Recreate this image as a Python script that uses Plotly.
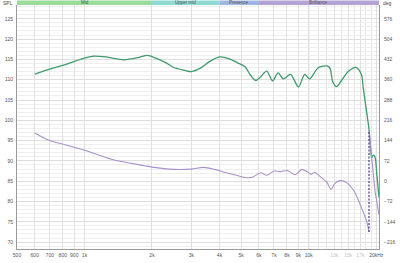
import math
import plotly.graph_objects as go

# ---------------- data ----------------
SPL_FREQ = [600, 700, 800, 900, 1000, 1100, 1250, 1500, 1750, 1900, 2000, 2300, 2500, 2800, 3000,
            3300, 3600, 4000, 4400, 4800, 5200, 5500, 5800, 6100, 6500, 6900, 7300, 7700, 8300,
            9000, 9600, 10100, 11000, 12100, 12450, 12800, 13300, 14000, 15000, 16300, 17200,
            17500, 18100, 18600, 18900, 19100, 19400, 19750, 20100, 20580]
SPL_DB = [111.4, 112.6, 113.5, 114.5, 115.3, 115.8, 115.6, 114.9, 115.5, 116.0, 115.7, 114.2, 113.0,
          112.3, 112.0, 112.9, 114.4, 115.6, 115.2, 114.2, 113.2, 111.1, 109.8, 110.7, 112.1, 109.7,
          111.7, 110.2, 111.3, 108.2, 111.3, 110.2, 112.9, 113.4, 112.8, 109.5, 108.3, 109.8, 112.0,
          113.0, 111.2, 108.0, 102.3, 97.5, 92.6, 90.8, 91.4, 91.0, 87.0, 81.0]

PHASE_FREQ_A = [600, 690, 820, 1000, 1330, 1850, 2000, 2500, 3000, 3400, 3800, 4200, 4700, 5200,
                5600, 6100, 6500, 7000, 7450, 8050, 8700, 9330, 9820, 10240, 10660, 11230, 12060,
                12570, 13090, 13790, 14810, 16080, 17280, 18180, 18570]
PHASE_DEG_A = [171, 146, 129, 110, 77, 55, 50, 42, 43, 49, 42, 32, 22, 13, 14, 30, 21, 36, 34, 38,
               23, 42, 34, 25, 31, 17, -4, -29, -8, 2, -6, -41, -99, -145, -180]
PHASE_FREQ_B = [18570, 18900, 19200, 19500, 19800, 20200, 20580]
PHASE_DEG_B = [180, 120, 65, 10, -40, -80, -120]

WRAP_FREQ = [18570, 18570]
WRAP_DEG = [-180, 180]

X_TICKS = [500, 600, 700, 800, 900, 1000, 2000, 3000, 4000, 5000, 6000, 7000, 8000, 9000, 10000,
           13000, 15000, 17000, 20000]
X_LABELS = ["500", "600", "700", "800", "900", "1k", "2k", "3k", "4k", "5k", "6k", "7k", "8k",
            "9k", "10k", "13k", "15k", "17k", "20kHz"]
X_FAINT = ["13k", "15k", "17k"]
X_MINOR = [11000, 12000, 14000, 16000, 18000, 19000]
X_MAJOR_GRID = [1000, 10000]
X_RANGE = [500, 20580]

Y_TICKS = [70, 75, 80, 85, 90, 95, 100, 105, 110, 115, 120, 125]
Y_RANGE = [68.3, 128.4]
DEG_TICKS = [-216, -144, -72, 0, 72, 144, 216, 288, 360, 432, 504, 576]

BAND_NAMES = ["Mid", "Upper mid", "Presence", "Brilliance"]
BAND_EDGES = [500, 2000, 4000, 6000, 20580]
BAND_COLORS = ["#9adc9a", "#8fd9d3", "#9fb6e2", "#b3a3d5"]


def db_to_deg(v):
    return (v - 70) * 14.4 - 216


GREEN = "#3f9a6c"
PURPLE = "#a891cc"
FONT = "Liberation Sans"

fig = go.Figure()
fig.add_trace(go.Scatter(x=SPL_FREQ, y=SPL_DB, mode="lines",
                         line=dict(color=GREEN, width=1.3, shape="spline", smoothing=0.8),
                         hoverinfo="skip", showlegend=False))
fig.add_trace(go.Scatter(x=PHASE_FREQ_A, y=PHASE_DEG_A, mode="lines", yaxis="y2",
                         line=dict(color=PURPLE, width=1.1, shape="spline", smoothing=0.8),
                         hoverinfo="skip", showlegend=False))
fig.add_trace(go.Scatter(x=PHASE_FREQ_B, y=PHASE_DEG_B, mode="lines", yaxis="y2",
                         line=dict(color=PURPLE, width=1.1, shape="spline", smoothing=0.8),
                         hoverinfo="skip", showlegend=False))
fig.add_trace(go.Scatter(x=WRAP_FREQ, y=WRAP_DEG, mode="lines", yaxis="y2",
                         line=dict(color="#5a4496", width=1.3, dash="2px,1.5px"),
                         hoverinfo="skip", showlegend=False))

ticktext = [f'<span style="color:#c4c4c4">{t}</span>' if t in X_FAINT else t for t in X_LABELS]

W, H = 400, 263
L, R, T, B = 17, 21, 5, 9
plot_h = H - T - B

shapes = []
for xv in X_MAJOR_GRID:
    shapes.append(dict(type="line", xref="x", yref="paper", x0=xv, x1=xv, y0=0, y1=1,
                       line=dict(color="#bdbdbd", width=1), layer="below"))
strip = 4.6 / plot_h
for i, name in enumerate(BAND_NAMES):
    shapes.append(dict(type="rect", xref="x", yref="paper", x0=BAND_EDGES[i], x1=BAND_EDGES[i + 1],
                       y0=1.0, y1=1.0 + strip, line=dict(width=0), fillcolor=BAND_COLORS[i],
                       layer="above"))

annotations = []
for i, name in enumerate(BAND_NAMES):
    xc = math.sqrt(BAND_EDGES[i] * BAND_EDGES[i + 1])
    annotations.append(dict(x=math.log10(xc), xref="x", y=1.0 + strip / 2, yref="paper",
                            text=name, showarrow=False, font=dict(size=4.5, color="#555", family=FONT),
                            xanchor="center", yanchor="middle"))
annotations.append(dict(x=0, xref="paper", xshift=-16, y=1.0 + strip / 2, yref="paper",
                        text="SPL", showarrow=False, font=dict(size=5, color="#444", family=FONT),
                        xanchor="left", yanchor="middle"))
annotations.append(dict(x=1, xref="paper", xshift=2, y=1.0 + strip / 2, yref="paper",
                        text="deg", showarrow=False, font=dict(size=5, color="#444", family=FONT),
                        xanchor="left", yanchor="middle"))

fig.update_layout(
    width=W, height=H,
    margin=dict(l=L, r=R, t=T, b=B, pad=0),
    paper_bgcolor="white", plot_bgcolor="white",
    font=dict(family=FONT, size=5, color="#555"),
    shapes=shapes, annotations=annotations,
    xaxis=dict(type="log", range=[math.log10(X_RANGE[0]), math.log10(X_RANGE[1])],
               tickmode="array", tickvals=X_TICKS, ticktext=ticktext,
               showgrid=True, gridcolor="#e0e0e0", gridwidth=1,
               minor=dict(tickmode="array", tickvals=X_MINOR, showgrid=True, gridcolor="#e6e6e6"),
               showline=True, linecolor="#9a9a9a", linewidth=1, ticks="", ticklabelstandoff=1,
               zeroline=False, tickfont=dict(size=5, color="#555")),
    yaxis=dict(range=Y_RANGE, tickmode="array", tickvals=Y_TICKS,
               showgrid=True, gridcolor="#dedede", gridwidth=1,
               minor=dict(dtick=1, tick0=70, showgrid=True, gridcolor="#efefef"),
               showline=True, linecolor="#9a9a9a", linewidth=1, ticks="", ticklabelstandoff=2,
               zeroline=False, tickfont=dict(size=5, color="#555")),
    yaxis2=dict(overlaying="y", side="right",
                range=[db_to_deg(Y_RANGE[0]), db_to_deg(Y_RANGE[1])],
                tickmode="array", tickvals=DEG_TICKS, showgrid=False,
                showline=True, linecolor="#9a9a9a", linewidth=1, ticks="", ticklabelstandoff=3,
                zeroline=False, tickfont=dict(size=5, color="#555")),
)

fig.write_html("out.html")
